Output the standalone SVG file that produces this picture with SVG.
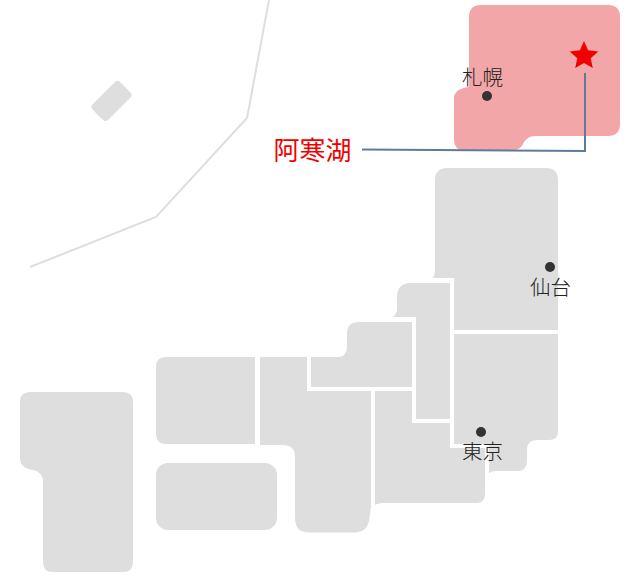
<svg xmlns="http://www.w3.org/2000/svg" width="640" height="576" viewBox="0 0 640 576">
<style>
.r{fill:#dedede}
.h{fill:#f2a6a8}
.c{fill:none;stroke:#dedede;stroke-width:2}
.d{fill:#333}
.t{font-family:"Noto Sans CJK JP","Noto Sans",sans-serif;font-size:20.500px;fill:#222;text-anchor:middle;font-weight:300}
</style>
<rect width="640" height="576" fill="#fff"/>
<g id="sea-line"><path class="c" d="M269 0L247 118L156 217L30 267"/></g>
<g id="okinawa"><rect class="r" x="92" y="90" width="39" height="22" rx="4" transform="rotate(-45 111.500 101)"/></g>
<g id="hokkaido"><path class="h" d="M481 5H608Q620 5 620 17V124Q620 136 608 136H535Q527 136 523 144Q520 150 513 150H464Q454 150 454 140V98Q454 89 469 87V17Q469 5 481 5Z"/></g>
<g id="tohoku"><path class="r" d="M447 168H546Q558 168 558 180V330H454V278H433Q435 275 435 270V180Q435 168 447 168Z"/></g>
<g id="kanto"><path class="r" d="M454 334H558V431Q558 440 549 440H537Q527 440 527 450V461Q527 471 517 471H497Q492 471 489 473V444H454Z"/></g>
<g id="chubu-north"><path class="r" d="M450 283V419H416V317H393Q397 314 397 308V297Q397 283 411 283Z"/></g>
<g id="chubu-west"><path class="r" d="M412 322V387H311V357H337Q347 357 347 347V332Q348 322 358 322Z"/></g>
<g id="chubu-south"><path class="r" d="M375 391H412V423H450V448H485V494Q485 503 476 503H383Q378 503 375 505Z"/></g>
<g id="kinki"><path class="r" d="M260 357H307V391H371V507L369.500 518Q368 532.500 354 532.500H309Q295 532.500 295 518V457Q295 445 283 445H260Z"/></g>
<g id="chugoku"><path class="r" d="M166 357H255V444H166Q156 444 156 434V367Q156 357 166 357Z"/></g>
<g id="shikoku"><rect class="r" x="156" y="463" width="121" height="67" rx="12"/></g>
<g id="kyushu"><path class="r" d="M30 392H123Q133 392 133 402V562Q133 572 123 572H53Q43 572 43 562V482Q43 472 33 470Q20 468 20 458V402Q20 392 30 392Z"/></g>
<g id="sapporo"><circle class="d" cx="487" cy="96" r="5"/><text class="t" x="482.500" y="85">札幌</text></g>
<g id="sendai"><circle class="d" cx="550" cy="267" r="5"/><text class="t" x="550.500" y="295">仙台</text></g>
<g id="tokyo"><circle class="d" cx="481" cy="432" r="5"/><text class="t" x="482.500" y="459">東京</text></g>
<g id="connectors"><path d="M362 149.500L585 151V73" fill="none" stroke="#5f7a9c" stroke-width="2"/></g>
<g id="akan"><polygon points="584,41 588.100,50.300 598.300,51.400 590.700,58.200 592.800,68.100 584,63 575.200,68.100 577.300,58.200 569.700,51.400 579.900,50.300" fill="#f00000"/><text x="312.500" y="160" font-family="'Noto Sans CJK JP','Noto Sans',sans-serif" font-size="26" fill="#f00000" text-anchor="middle">阿寒湖</text></g>
</svg>
